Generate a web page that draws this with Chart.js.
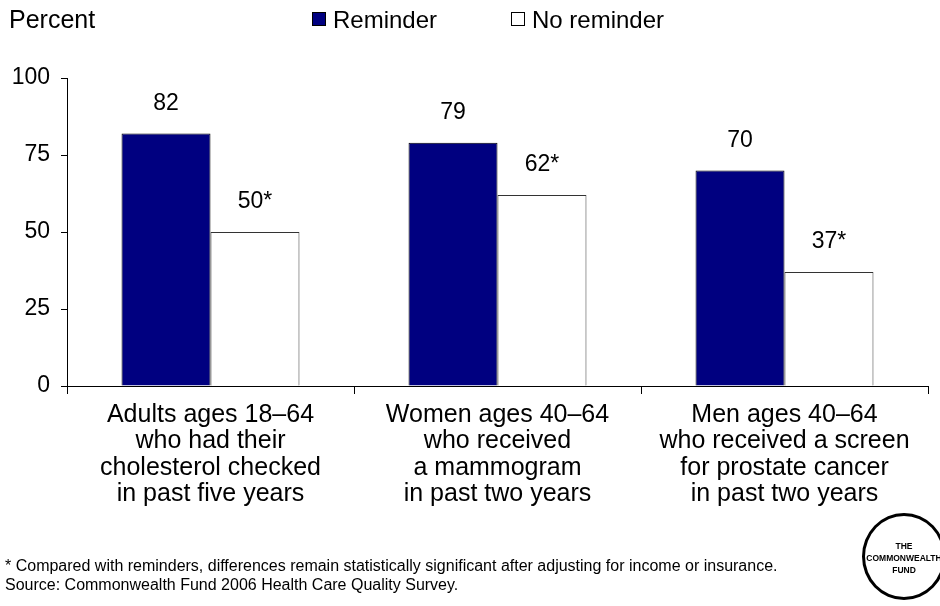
<!DOCTYPE html>
<html>
<head>
<meta charset="utf-8">
<script src="https://cdn.jsdelivr.net/npm/chart.js@4/dist/chart.umd.min.js"></script>
<style>
  html, body { margin: 0; padding: 0; background: #fff; }
  #wrap { position: relative; width: 940px; height: 606px; overflow: hidden; }
  #chart { position: absolute; left: 0; top: 0; }
  .note { position: absolute; left: 5px; font-family: "Liberation Sans", Arial, sans-serif; font-size: 16px; color: #000; white-space: nowrap; }
  #logo { position: absolute; left: 862px; top: 513px; width: 84px; height: 87px; border: 3px solid #000; border-radius: 50%; box-sizing: border-box; }
  #logo div { position: absolute; left: -10px; right: -10px; top: 24px; text-align: center;
              font-family: "Liberation Sans", Arial, sans-serif; font-weight: bold; font-size: 8.5px; line-height: 12px; }
</style>
</head>
<body>
<div id="wrap">
  <canvas id="chart" width="940" height="606"></canvas>
  <div class="note" style="top: 557px;">* Compared with reminders, differences remain statistically significant after adjusting for income or insurance.</div>
  <div class="note" style="top: 576px;">Source: Commonwealth Fund 2006 Health Care Quality Survey.</div>
  <div id="logo"><div>THE<br>COMMONWEALTH<br>FUND</div></div>
</div>
<script>
// ---------------------------------------------------------------------------
// Data
// ---------------------------------------------------------------------------
const categories = [
  ['Adults ages 18–64', 'who had their', 'cholesterol checked', 'in past five years'],
  ['Women ages 40–64', 'who received', 'a mammogram', 'in past two years'],
  ['Men ages 40–64', 'who received a screen', 'for prostate cancer', 'in past two years']
];
const reminderValues = [82, 79, 70];
const noReminderValues = [50, 62, 37];
const reminderLabels = ['82', '79', '70'];
const noReminderLabels = ['50*', '62*', '37*'];
const yTicks = [0, 25, 50, 75, 100];

const FONT = '"Liberation Sans", Arial, sans-serif';

// value labels above the bars
const valueLabels = {
  id: 'valueLabels',
  afterDatasetsDraw(chart) {
    const ctx = chart.ctx;
    ctx.save();
    ctx.font = '23px ' + FONT;
    ctx.fillStyle = '#000';
    ctx.textAlign = 'center';
    ctx.textBaseline = 'middle';
    chart.data.datasets.forEach((ds, i) => {
      chart.getDatasetMeta(i).data.forEach((bar, j) => {
        ctx.fillText(ds.valueText[j], bar.x, bar.y - 30);
      });
    });
    ctx.restore();
  }
};

// "Percent" heading and the legend
const header = {
  id: 'header',
  afterDraw(chart) {
    const ctx = chart.ctx;
    ctx.save();
    ctx.fillStyle = '#000';
    ctx.textBaseline = 'middle';
    ctx.font = '25px ' + FONT;
    ctx.fillText('Percent', 9, 21);
    ctx.font = '24px ' + FONT;
    const items = [
      { x: 312, text: chart.data.datasets[0].label, fill: chart.data.datasets[0].backgroundColor },
      { x: 511, text: chart.data.datasets[1].label, fill: chart.data.datasets[1].backgroundColor }
    ];
    items.forEach(it => {
      ctx.fillStyle = it.fill;
      ctx.fillRect(it.x, 12, 14, 14);
      ctx.strokeStyle = '#000';
      ctx.lineWidth = 1;
      ctx.strokeRect(it.x + 0.5, 12.5, 13, 13);
      ctx.fillStyle = '#000';
      ctx.fillText(it.text, it.x + 21, 21);
    });
    ctx.restore();
  }
};

new Chart(document.getElementById('chart'), {
  type: 'bar',
  data: {
    labels: categories,
    datasets: [
      {
        label: 'Reminder',
        data: reminderValues,
        valueText: reminderLabels,
        backgroundColor: '#000080',
        borderColor: '#000000',
        borderWidth: 1,
        categoryPercentage: 0.62,
        barPercentage: 1.0
      },
      {
        label: 'No reminder',
        data: noReminderValues,
        valueText: noReminderLabels,
        backgroundColor: '#ffffff',
        borderColor: '#333333',
        borderWidth: 1,
        categoryPercentage: 0.62,
        barPercentage: 1.0
      }
    ]
  },
  options: {
    responsive: false,
    animation: false,
    layout: { padding: { top: 78, right: 12, left: 0, bottom: 0 } },
    plugins: {
      legend: { display: false },
      tooltip: { enabled: false }
    },
    scales: {
      y: {
        min: 0,
        max: 100,
        afterBuildTicks(scale) { scale.ticks = yTicks.map(v => ({ value: v })); },
        afterFit(scale) { scale.width = 67; },
        border: { color: '#000', width: 1 },
        grid: { drawOnChartArea: false, drawTicks: true, tickLength: 6, color: '#000' },
        ticks: { color: '#000', padding: 11, font: { family: FONT, size: 23 } }
      },
      x: {
        afterFit(scale) { scale.height = 220; },
        border: { color: '#000', width: 1 },
        grid: { drawOnChartArea: false, drawTicks: true, tickLength: 8, color: '#000', offset: true },
        ticks: { color: '#000', padding: 8, maxRotation: 0, autoSkip: false,
                 font: { family: FONT, size: 25, lineHeight: 1.05 } }
      }
    }
  },
  plugins: [valueLabels, header]
});
</script>
</body>
</html>
